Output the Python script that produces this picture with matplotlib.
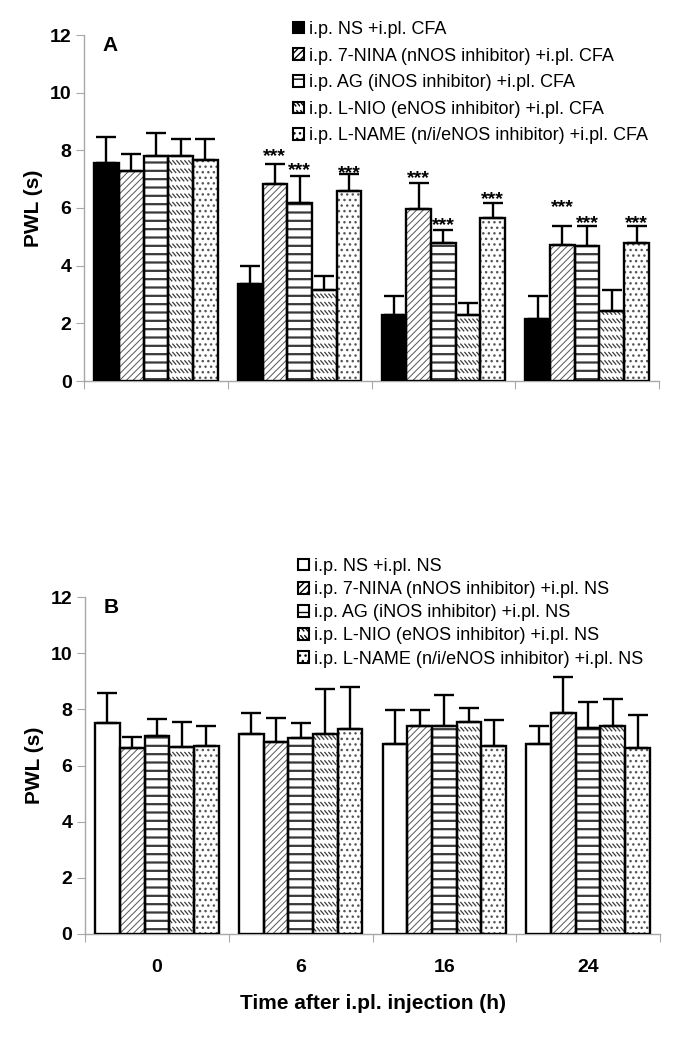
import numpy as np
import matplotlib
matplotlib.use("Agg")
import matplotlib.pyplot as plt
import matplotlib.hatch as mhatch
from matplotlib.path import Path
from matplotlib.patches import Patch

plt.rcParams['font.family'] = ['Liberation Sans', 'DejaVu Sans']

categories = ['0', '6', '16', '24']

labels_A = ['i.p. NS +i.pl. CFA',
            'i.p. 7-NINA (nNOS inhibitor) +i.pl. CFA',
            'i.p. AG (iNOS inhibitor) +i.pl. CFA',
            'i.p. L-NIO (eNOS inhibitor) +i.pl. CFA',
            'i.p. L-NAME (n/i/eNOS inhibitor) +i.pl. CFA']
labels_B = ['i.p. NS +i.pl. NS',
            'i.p. 7-NINA (nNOS inhibitor) +i.pl. NS',
            'i.p. AG (iNOS inhibitor) +i.pl. NS',
            'i.p. L-NIO (eNOS inhibitor) +i.pl. NS',
            'i.p. L-NAME (n/i/eNOS inhibitor) +i.pl. NS']

# Panel A (CFA) means and upper SEM
A_ns    = [7.55, 3.37, 2.30, 2.15]
A_nina  = [7.30, 6.83, 5.97, 4.73]
A_ag    = [7.82, 6.18, 4.80, 4.68]
A_lnio  = [7.82, 3.15, 2.28, 2.43]
A_lname = [7.68, 6.60, 5.66, 4.80]
A_ns_err    = [0.92, 0.63, 0.65, 0.80]
A_nina_err  = [0.59, 0.70, 0.90, 0.63]
A_ag_err    = [0.79, 0.92, 0.44, 0.69]
A_lnio_err  = [0.58, 0.48, 0.44, 0.73]
A_lname_err = [0.72, 0.58, 0.52, 0.57]

# Panel B (NS) means and upper SEM
B_ns    = [7.50, 7.12, 6.77, 6.77]
B_nina  = [6.61, 6.84, 7.41, 7.86]
B_ag    = [7.06, 6.97, 7.41, 7.33]
B_lnio  = [6.67, 7.12, 7.56, 7.41]
B_lname = [6.69, 7.29, 6.69, 6.61]
B_ns_err    = [1.07, 0.74, 1.20, 0.64]
B_nina_err  = [0.42, 0.86, 0.56, 1.30]
B_ag_err    = [0.58, 0.53, 1.10, 0.94]
B_lnio_err  = [0.89, 1.59, 0.50, 0.95]
B_lname_err = [0.72, 1.51, 0.93, 1.19]

# significance markers in panel A: (category index, series index, y of marker)
star_cat    = [1, 1, 1, 2, 2, 2, 3, 3, 3]
star_series = [1, 2, 4, 1, 2, 4, 1, 2, 4]
star_y      = [8.01, 7.53, 7.43, 7.26, 5.61, 6.51, 6.25, 5.70, 5.70]

yticks = [0, 2, 4, 6, 8, 10, 12]


# custom texture: rows of short back-diagonal dashes (replaces the '\' hatch)
class ShortBackDash(mhatch.HatchPatternBase):
    rows, cols = 12, 25
    sw, sh = 0.03, 0.035

    def __init__(self, hatch, density):
        n = hatch.count('\\')
        self.num_vertices = self.rows * self.cols * 2 if n else 0

    def set_vertices_and_codes(self, vertices, codes):
        k = 0
        for j in range(self.rows):
            yc = (j + 0.5) / self.rows
            for i in range(self.cols):
                x = (i + 0.2) / self.cols
                vertices[k] = (x, yc + self.sh / 2)
                vertices[k + 1] = (x + self.sw, yc - self.sh / 2)
                codes[k] = Path.MOVETO
                codes[k + 1] = Path.LINETO
                k += 2


mhatch._hatch_types = [ShortBackDash if c is mhatch.SouthEastHatch else c
                       for c in mhatch._hatch_types]

W, H = 685, 1037
fig = plt.figure(figsize=(W / 100, H / 100), dpi=100)


def fx(px):
    return px / W


def fy(py):
    return 1 - py / H


axA = fig.add_axes([fx(84), fy(381), fx(659 - 84), (381 - 35) / H])
axB = fig.add_axes([fx(85), fy(934), fx(660 - 85), (934 - 597) / H])

hatches = [None, '/////', '--', '\\', '...']
hatch_colors = ['black', '#555555', '#3a3a3a', '#3a3a3a', '#555555']
hatch_lws = [1.0, 0.7, 1.6, 0.9, 1.0]
GRAY = '#a8a8a8'
bw = 0.172
edge_lw = 1.7


def draw_panel(ax, means, errs, first_face, letter, show_x):
    x0 = np.arange(len(categories))
    n = len(means)
    handles = []
    for i in range(n):
        x = x0 + (i - (n - 1) / 2) * bw
        face = first_face if i == 0 else 'white'
        plt.rcParams['hatch.linewidth'] = hatch_lws[i]
        if hatches[i] is not None:
            b = ax.bar(x, means[i], bw, color=face, hatch=hatches[i],
                       edgecolor=hatch_colors[i], linewidth=0, zorder=2)
            for p in b:
                if hasattr(p, 'set_hatch_linewidth'):
                    p.set_hatch_linewidth(hatch_lws[i])
        else:
            ax.bar(x, means[i], bw, color=face, linewidth=0, zorder=2)
        ax.bar(x, means[i], bw, fill=False, edgecolor='black',
               linewidth=edge_lw, zorder=3)
        ax.errorbar(x, means[i], yerr=[np.zeros(len(x)), errs[i]], fmt='none',
                    ecolor='black', elinewidth=edge_lw, capsize=7,
                    capthick=edge_lw, zorder=4)
        h = Patch(facecolor=face, edgecolor='black', hatch=hatches[i],
                  linewidth=1.5)
        if hasattr(h, 'set_hatch_linewidth'):
            h.set_hatch_linewidth(hatch_lws[i])
        handles.append(h)

    ax.set_xlim(-0.5, len(categories) - 0.5)
    ax.set_ylim(0, 12)
    ax.set_yticks(yticks)
    ax.set_yticklabels([str(t) for t in yticks], fontsize=14, fontweight='bold')
    ax.set_xticks(np.arange(len(categories) + 1) - 0.5)
    ax.set_xticklabels([])
    ax.set_xticks(x0, minor=True)
    if show_x:
        ax.set_xticklabels(categories, minor=True, fontsize=14, fontweight='bold')
    ax.tick_params(axis='x', which='minor', length=0, pad=18)
    ax.tick_params(axis='x', which='major', length=6, color=GRAY, direction='out')
    ax.tick_params(axis='y', length=6, color=GRAY, direction='out', pad=3)
    for s in ['top', 'right']:
        ax.spines[s].set_visible(False)
    for s in ['left', 'bottom']:
        ax.spines[s].set_color(GRAY)
        ax.spines[s].set_linewidth(1.0)
    ax.set_ylabel('PWL (s)', fontsize=15, fontweight='bold')
    ax.yaxis.set_label_coords(-0.071, 0.5)
    ax.text(0.045, 0.97, letter, transform=ax.transAxes, fontsize=15,
            fontweight='bold', ha='center', va='center')
    return handles


hA = draw_panel(axA, [A_ns, A_nina, A_ag, A_lnio, A_lname],
                [A_ns_err, A_nina_err, A_ag_err, A_lnio_err, A_lname_err],
                'black', 'A', False)
hB = draw_panel(axB, [B_ns, B_nina, B_ag, B_lnio, B_lname],
                [B_ns_err, B_nina_err, B_ag_err, B_lnio_err, B_lname_err],
                'white', 'B', True)
plt.rcParams['hatch.linewidth'] = 1.0

for c, s, y in zip(star_cat, star_series, star_y):
    x = c + (s - 2) * bw
    axA.annotate('***', (x, y), xytext=(0, -0.58 * 14), textcoords='offset points',
                 ha='center', va='baseline', fontsize=14, fontweight='bold')

axB.set_xlabel('Time after i.pl. injection (h)', fontsize=15,
               fontweight='bold', labelpad=13)

legA = fig.legend(hA, labels_A, loc='upper left',
                  bbox_to_anchor=(fx(293), fy(21)), frameon=False, fontsize=13,
                  handlelength=0.6, handleheight=0.6, handletextpad=0.3,
                  labelspacing=0.53, borderpad=0, borderaxespad=0)
legB = fig.legend(hB, labels_B, loc='upper left',
                  bbox_to_anchor=(fx(298), fy(558)), frameon=False, fontsize=13,
                  handlelength=0.6, handleheight=0.6, handletextpad=0.3,
                  labelspacing=0.34, borderpad=0, borderaxespad=0)

fig.savefig('out.png', dpi=100)
